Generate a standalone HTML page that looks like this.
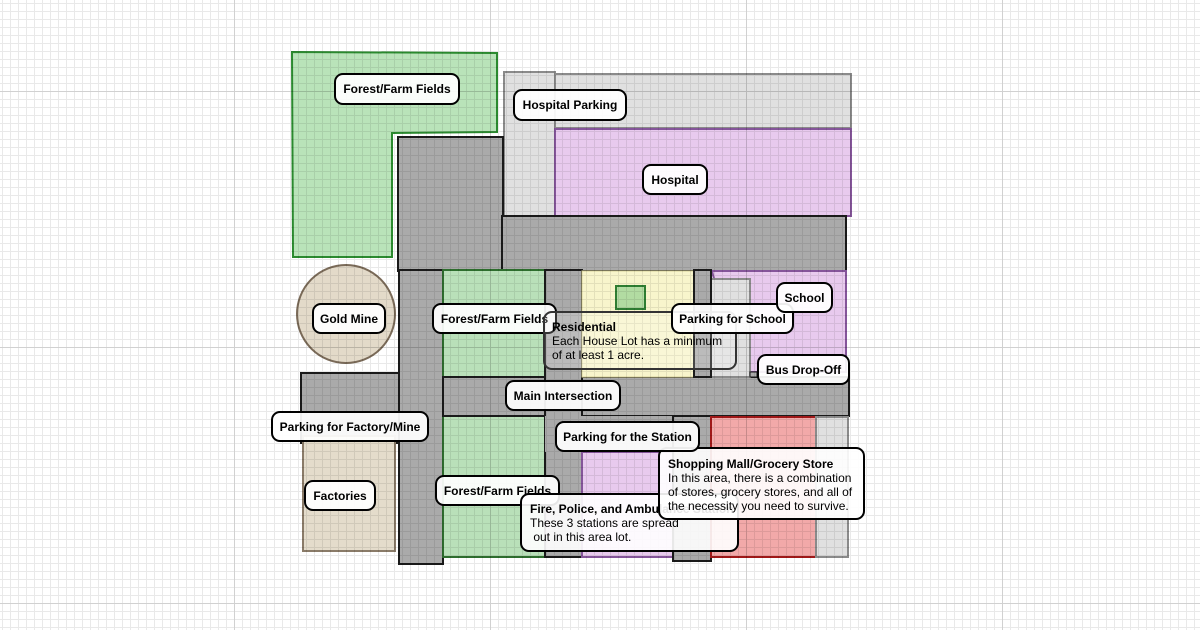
<!DOCTYPE html>
<html><head><meta charset="utf-8">
<style>
html,body{margin:0;padding:0;background:#fff;}
#wrap{position:relative;width:1200px;height:630px;overflow:hidden;background:#fff;font-family:"Liberation Sans",Arial,sans-serif;}
svg{position:absolute;left:0;top:0;}
.lb{position:absolute;box-sizing:border-box;border:2px solid #000;border-radius:9px;background:rgba(255,255,255,0.92);display:flex;align-items:center;justify-content:center;font-weight:bold;font-size:12px;color:#000;white-space:nowrap;}
.nt{position:absolute;box-sizing:border-box;border:2px solid #000;border-radius:9px;background:rgba(255,255,255,0.9);font-size:12px;line-height:14px;color:#000;white-space:nowrap;padding:7px 0 0 7px;}
.nt b{display:block;}
</style></head><body>
<div id="wrap">
<svg width="1200" height="630" viewBox="0 0 1200 630" xmlns="http://www.w3.org/2000/svg">
<defs>
<pattern id="gm" x="2" y="3" width="8" height="8" patternUnits="userSpaceOnUse">
<rect x="0" y="0" width="1" height="8" fill="rgba(0,0,0,0.085)"/>
<rect x="1" y="0" width="7" height="1" fill="rgba(0,0,0,0.085)"/>
</pattern>
<pattern id="gM" x="234" y="91" width="256" height="256" patternUnits="userSpaceOnUse">
<rect x="0" y="0" width="1" height="256" fill="rgba(0,0,0,0.1)"/>
<rect x="1" y="0" width="255" height="1" fill="rgba(0,0,0,0.1)"/>
</pattern>
</defs>
<g stroke-width="2">
<polygon points="292,52 497,53 497,132 392,133 392,257 293,257" fill="#b9e3b9" stroke="#2b8a2f"/>
<rect x="504" y="72" width="51" height="145" fill="#e0e0e0" stroke="#8a8a8a"/>
<rect x="555" y="74" width="296" height="54" fill="#e0e0e0" stroke="#8a8a8a"/>
<rect x="555" y="129" width="296" height="87" fill="#e8caee" stroke="#85559a"/>
<rect x="398" y="137" width="105" height="134" fill="#aaaaaa" stroke="#1a1a1a"/>
<rect x="502" y="216" width="344" height="55" fill="#aaaaaa" stroke="#1a1a1a"/>
<rect x="399" y="270" width="44" height="294" fill="#aaaaaa" stroke="#1a1a1a"/>
<rect x="443" y="270" width="102" height="107" fill="#b9e0b9" stroke="#2e6e2e"/>
<rect x="443" y="416" width="102" height="141" fill="#b9e0b9" stroke="#2e6e2e"/>
<circle cx="346" cy="314" r="49" fill="#e3dac9" stroke="#7a6a58"/>
<rect x="301" y="373" width="98" height="70" fill="#aaaaaa" stroke="#1a1a1a"/>
<rect x="303" y="436" width="92" height="115" fill="#e4dccb" stroke="#8a7b68"/>
<rect x="443" y="377" width="406" height="39" fill="#aaaaaa" stroke="#1a1a1a"/>
<rect x="545" y="270" width="37" height="287" fill="#aaaaaa" stroke="#1a1a1a"/>
<rect x="582" y="271" width="112" height="106" fill="#f8f5cc" stroke="#d9d39a" stroke-width="1"/>
<rect x="616" y="286" width="29" height="23" fill="#b2dca2" stroke="#2e7d32"/>
<polygon points="712,271 846,271 846,372 750,372 750,279 714,279" fill="#e8caee" stroke="#85559a"/>
<rect x="711" y="279" width="39" height="98" fill="#e0e0e0" stroke="#8a8a8a"/>
<rect x="750" y="372" width="7" height="5" fill="#aaaaaa" stroke="#1a1a1a" stroke-width="1"/>
<rect x="694" y="270" width="17" height="107" fill="#aaaaaa" stroke="#1a1a1a"/>
<rect x="545" y="416" width="128" height="36" fill="#aaaaaa" stroke="none"/>
<rect x="582" y="452" width="91" height="105" fill="#e8caee" stroke="#85559a"/>
<rect x="673" y="416" width="38" height="145" fill="#aaaaaa" stroke="#1a1a1a"/>
<rect x="711" y="417" width="105" height="140" fill="#f2a9a9" stroke="#a01818"/>
<rect x="816" y="417" width="32" height="140" fill="#e0e0e0" stroke="#8a8a8a"/>
</g>
<rect x="0" y="0" width="1200" height="630" fill="url(#gm)"/>
<rect x="0" y="0" width="1200" height="630" fill="url(#gM)"/>
</svg>

<div class="lb" style="left:334px;top:73px;width:126px;height:32px;">Forest/Farm Fields</div>
<div class="lb" style="left:513px;top:89px;width:114px;height:32px;">Hospital Parking</div>
<div class="lb" style="left:642px;top:164px;width:66px;height:31px;">Hospital</div>
<div class="lb" style="left:312px;top:303px;width:74px;height:31px;">Gold Mine</div>
<div class="lb" style="left:432px;top:303px;width:125px;height:31px;">Forest/Farm Fields</div>
<div class="nt" style="left:543px;top:311px;width:194px;height:59px;background:rgba(255,255,255,0.2);border-color:#333;"><b>Residential</b>Each House Lot has a minimum<br>of at least 1 acre.</div>
<div class="lb" style="left:671px;top:303px;width:123px;height:31px;">Parking for School</div>
<div class="lb" style="left:776px;top:282px;width:57px;height:31px;">School</div>
<div class="lb" style="left:757px;top:354px;width:93px;height:31px;">Bus Drop-Off</div>
<div class="lb" style="left:505px;top:380px;width:116px;height:31px;">Main Intersection</div>
<div class="lb" style="left:271px;top:411px;width:158px;height:31px;">Parking for Factory/Mine</div>
<div class="lb" style="left:304px;top:480px;width:72px;height:31px;">Factories</div>
<div class="lb" style="left:435px;top:475px;width:125px;height:31px;">Forest/Farm Fields</div>
<div class="nt" style="left:520px;top:493px;width:219px;height:59px;padding-left:8px;"><b>Fire, Police, and Ambulance Station</b>These 3 stations are spread<br>&nbsp;out in this area lot.</div>
<div class="nt" style="left:658px;top:447px;width:207px;height:73px;padding-left:8px;padding-top:8px;"><b>Shopping Mall/Grocery Store</b>In this area, there is a combination<br>of stores, grocery stores, and all of<br>the necessity you need to survive.</div>
<div class="lb" style="left:555px;top:421px;width:145px;height:31px;">Parking for the Station</div>
</div>
</body></html>
